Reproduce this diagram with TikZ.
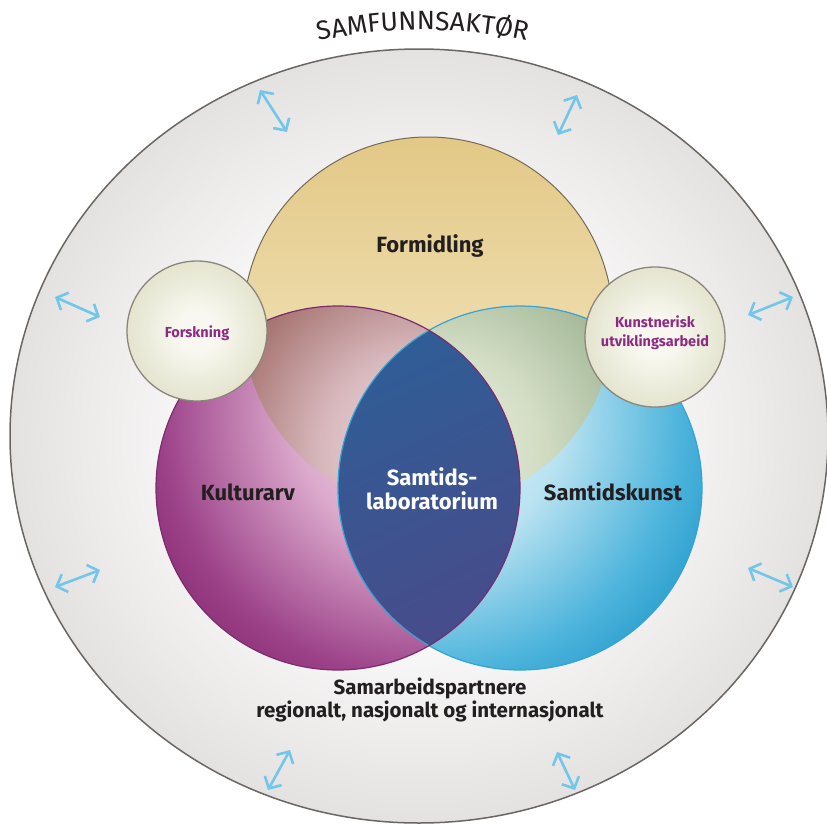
\documentclass[tikz,border=0pt]{standalone}
\usepackage{fontspec}
\setmainfont{Fira Sans}
\usetikzlibrary{arrows.meta,decorations.text}
\definecolor{bgin}{HTML}{F8F7F7}
\definecolor{bgout}{HTML}{E4E2E1}
\definecolor{rim}{HTML}{6B6661}
\definecolor{formtop}{HTML}{E3C886}
\definecolor{formbot}{HTML}{F6EDCD}
\definecolor{formrim}{HTML}{746A58}
\definecolor{purp0}{HTML}{F4E1EE}
\definecolor{purp1}{HTML}{DBA9CC}
\definecolor{purp2}{HTML}{9C4289}
\definecolor{purp3}{HTML}{86276F}
\definecolor{purprim}{HTML}{7B2C6F}
\definecolor{cyan0}{HTML}{EAF6FB}
\definecolor{cyan1}{HTML}{B9E2F1}
\definecolor{cyan2}{HTML}{4DB4DC}
\definecolor{cyan3}{HTML}{1F96C8}
\definecolor{cyanrim}{HTML}{35A4D3}
\definecolor{fp0}{HTML}{EEDDE0}
\definecolor{fp1}{HTML}{D7B7BC}
\definecolor{fp2}{HTML}{A5736F}
\definecolor{fp3}{HTML}{8F5D57}
\definecolor{fc0}{HTML}{ECEFE0}
\definecolor{fc1}{HTML}{D3DDC4}
\definecolor{fc2}{HTML}{A3B898}
\definecolor{fc3}{HTML}{8AA88C}
\definecolor{lenstop}{HTML}{2D5F97}
\definecolor{lensbot}{HTML}{4A4A8A}
\definecolor{cream0}{HTML}{F8F8F0}
\definecolor{cream1}{HTML}{E4E4CF}
\definecolor{creamrim}{HTML}{8B857A}
\definecolor{arrowblue}{HTML}{72C6EA}
\definecolor{labtext}{HTML}{231F20}
\definecolor{smallpurple}{HTML}{8E2A82}
\pgfdeclareradialshading{bigbg}{\pgfpoint{0bp}{0bp}}{color(0bp)=(bgin); color(14bp)=(bgin); color(25bp)=(bgout); color(50bp)=(bgout)}
\pgfdeclareradialshading{purpsh}{\pgfpoint{0bp}{0bp}}{color(0bp)=(purp0); color(10bp)=(purp1); color(20bp)=(purp2); color(25bp)=(purp3); color(50bp)=(purp3)}
\pgfdeclareradialshading{cyansh}{\pgfpoint{0bp}{0bp}}{color(0bp)=(cyan0); color(10bp)=(cyan1); color(19bp)=(cyan2); color(25bp)=(cyan3); color(50bp)=(cyan3)}
\pgfdeclareradialshading{fpsh}{\pgfpoint{0bp}{0bp}}{color(0bp)=(fp0); color(10bp)=(fp1); color(20bp)=(fp2); color(25bp)=(fp3); color(50bp)=(fp3)}
\pgfdeclareradialshading{fcsh}{\pgfpoint{0bp}{0bp}}{color(0bp)=(fc0); color(10bp)=(fc1); color(20bp)=(fc2); color(25bp)=(fc3); color(50bp)=(fc3)}
\pgfdeclareradialshading{creamsh}{\pgfpoint{0bp}{0bp}}{color(0bp)=(cream0); color(7bp)=(cream0); color(25bp)=(cream1); color(50bp)=(cream1)}
\tikzset{
  lab/.style={font=\bfseries\fontsize{22}{24}\selectfont, text=labtext, align=center, inner sep=0pt},
  labwhite/.style={lab, text=white},
  smalllab/.style={font=\bfseries\fontsize{14.5}{19}\selectfont, text=smallpurple, align=center, inner sep=0pt},
  notelab/.style={font=\bfseries\fontsize{20.5}{23}\selectfont, text=labtext, align=center, inner sep=0pt},
  dblarrow/.style={{Straight Barb[length=9pt,width=19pt]}-{Straight Barb[length=9pt,width=19pt]}, line width=2.6pt, draw=arrowblue},
  smallrim/.style={draw=creamrim, line width=1.3pt}
}
\begin{document}
\begin{tikzpicture}[x=1pt,y=1pt]
\useasboundingbox (0,0) rectangle (827,-827);
\fill[white] (0,0) rectangle (827,-827);
% outer field
\shade[shading=bigbg] (419,-436) ellipse [x radius=409, y radius=387];
\draw[rim, line width=1.5pt] (419,-436) ellipse [x radius=409, y radius=387];
% title along arc
\path[decorate, decoration={text along path, text align=center,
  text={|\fontsize{26.5}{30}\selectfont\color{labtext}|SAMFUNNSAKTØR}}]
  (251.99,-60.15) arc[start angle=110, end angle=70, radius=500];
% Formidling
\shade[top color=formtop, bottom color=formbot] (428,-322) circle (185);
\draw[formrim, line width=1pt] (428,-322) circle (185);
% Kulturarv
\begin{scope}
  \clip (338,-488) circle (182);
  \shade[shading=purpsh] (425,-415) circle (330);
\end{scope}
% Samtidskunst
\begin{scope}
  \clip (520,-488) circle (182);
  \shade[shading=cyansh] (430,-420) circle (330);
\end{scope}
% Formidling & Kulturarv
\begin{scope}
  \clip (428,-322) circle (185);
  \clip (338,-488) circle (182);
  \shade[shading=fpsh] (420,-450) circle (250);
\end{scope}
% Formidling & Samtidskunst
\begin{scope}
  \clip (428,-322) circle (185);
  \clip (520,-488) circle (182);
  \shade[shading=fcsh] (440,-450) circle (250);
\end{scope}
% Samtidslaboratorium lens
\begin{scope}
  \clip (338,-488) circle (182);
  \clip (520,-488) circle (182);
  \shade[top color=lenstop, bottom color=lensbot, shading angle=25]
    (300,-300) rectangle (560,-676);
\end{scope}
\draw[cyanrim, line width=1.2pt] (520,-488) circle (182);
\draw[purprim, line width=1.2pt] (338,-488) circle (182);
% small circles
\shade[shading=creamsh] (197,-331) circle (70);
\draw[smallrim] (197,-331) circle (70);
\shade[shading=creamsh] (655,-337) circle (70);
\draw[smallrim] (655,-337) circle (70);
% labels
\node[lab] (form) at (430,-246) {Formidling};
\node[lab] (kult) at (248,-492) {Kulturarv};
\node[lab] (samk) at (613,-492) {Samtidskunst};
\node[labwhite] (labor) at (432,-489) {Samtids-\\laboratorium};
\node[smalllab] (forsk) at (197,-333) {Forskning};
\node[smalllab] (kunst) at (655,-333) {Kunstnerisk\\utviklingsarbeid};
\node[notelab] (samarb) at (430,-700) {Samarbeidspartnere\\regionalt, nasjonalt og internasjonalt};
% arrows
\coordinate (a1s) at (260,-90);  \coordinate (a1e) at (287,-132);
\coordinate (a2s) at (577,-95);  \coordinate (a2e) at (558,-135);
\coordinate (a3s) at (55,-297);  \coordinate (a3e) at (100,-317);
\coordinate (a4s) at (100,-570); \coordinate (a4e) at (55,-587);
\coordinate (a5s) at (793,-297); \coordinate (a5e) at (748,-315);
\coordinate (a6s) at (748,-568); \coordinate (a6e) at (793,-587);
\coordinate (a7s) at (290,-750); \coordinate (a7e) at (268,-790);
\coordinate (a8s) at (557,-752); \coordinate (a8e) at (575,-790);
\foreach \i in {1,...,8} { \draw[dblarrow] (a\i s) -- (a\i e); }
\end{tikzpicture}
\end{document}
